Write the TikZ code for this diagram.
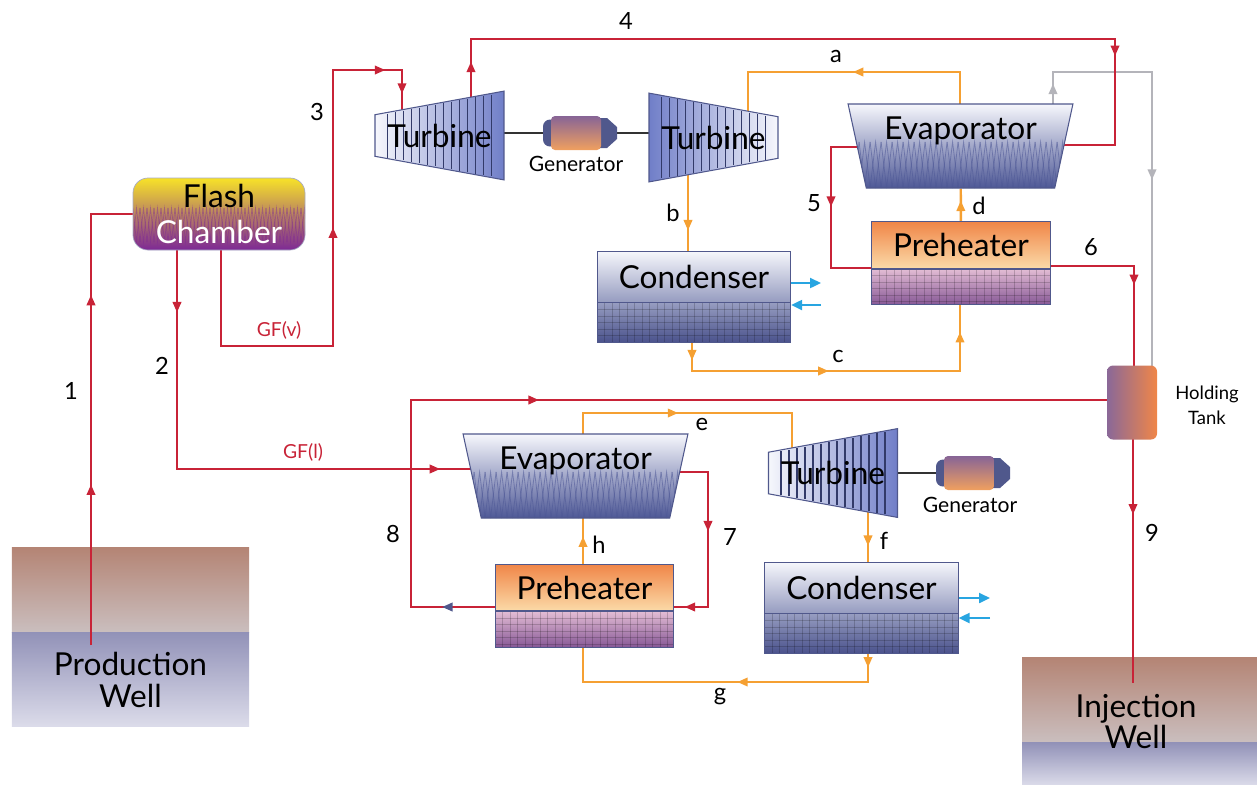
\documentclass[tikz,border=0pt]{standalone}
\usepackage{fontspec}
\setmainfont{Lato}
\usetikzlibrary{arrows.meta,positioning,calc,backgrounds,shapes.geometric}
\definecolor{hotred}   {RGB}{200,35,55}
\definecolor{coldor}   {RGB}{245,160,50}
\definecolor{vapgray}  {RGB}{180,180,186}
\definecolor{waterblue}{RGB}{40,165,225}
\definecolor{edgeblue} {RGB}{80,88,140}
\definecolor{bladeblue}{RGB}{50,58,105}
\definecolor{turbdark} {RGB}{112,126,200}
\definecolor{turblite} {RGB}{246,247,252}
\definecolor{evapdark} {RGB}{78,88,150}
\definecolor{condmid}  {RGB}{150,156,192}
\definecolor{conddark} {RGB}{74,82,140}
\definecolor{preorange}{RGB}{240,134,72}
\definecolor{prepeach} {RGB}{251,218,168}
\definecolor{gridpink} {RGB}{226,188,212}
\definecolor{gridplum} {RGB}{135,88,150}
\definecolor{flashyel} {RGB}{247,226,40}
\definecolor{flashor}  {RGB}{238,160,80}
\definecolor{flashpur} {RGB}{125,40,150}
\definecolor{genpur}   {RGB}{135,100,150}
\definecolor{genpeach} {RGB}{247,200,140}
\definecolor{genor}    {RGB}{240,160,95}
\definecolor{tankpur}  {RGB}{138,104,152}
\definecolor{rockbrn}  {RGB}{180,132,116}
\definecolor{rocklite} {RGB}{202,190,190}
\definecolor{welllav}  {RGB}{146,146,184}
\definecolor{welllite} {RGB}{220,220,234}

% fillings drawn inside the equipment nodes
\newcommand\turbblades[1]{%
  \ifnum#1>0 \colorlet{turbL}{turblite}\colorlet{turbR}{turbdark}%
  \else \colorlet{turbL}{turbdark}\colorlet{turbR}{turblite}\fi
  \shade[left color=turbL,right color=turbR] (path picture bounding box.south west)
    rectangle (path picture bounding box.north east);
  \foreach \k in {0,...,13}{%
    \pgfmathsetmacro\bx{#1*(8*\k-52)}%
    \pgfmathsetmacro\bh{22+1.46*\k}%
    \draw[blade] ($(path picture bounding box.center)+(\bx,-\bh)$) -- ++(0,2*\bh);}}
\newcommand\evapmesh{%
  \foreach \k in {0,...,20}{%
    \draw[mesh] ($(path picture bounding box.north west)+(11*\k,38)$) -- ++(5.5,46) -- ++(5.5,-46);
    \draw[mesh] ($(path picture bounding box.north west)+(11*\k,84)$) -- ++(5.5,-46) -- ++(5.5,46);}}
\newcommand\flashwaves{%
  \foreach \k in {0,...,24}{%
    \draw[wave] ($(path picture bounding box.north west)+(7*\k,30)$) -- ++(3.5,34) -- ++(3.5,-34);
    \draw[wave] ($(path picture bounding box.north west)+(7*\k,64)$) -- ++(3.5,-34) -- ++(3.5,34);}}
\newcommand\gridcells{%
  \foreach \k in {1,...,26}
    \draw[cell] ($(path picture bounding box.north west)+(7.5*\k,0)$) -- ++(0,50);
  \foreach \k in {1,...,6}
    \draw[cell] ($(path picture bounding box.north west)+(0,6.5*\k)$) -- ++(200,0);}
\newcommand\genparts{%
  \begin{scope}[shift={(path picture bounding box.center)}]
    \fill[edgeblue,rounded corners=1.4mm] (-7.4mm,-2.7mm) rectangle (-4.6mm,2.7mm);
    \fill[edgeblue] (3.6mm,-3mm) -- (5.4mm,-3mm) -- (7.4mm,-1.2mm) -- (7.4mm,1.2mm)
      -- (5.4mm,3mm) -- (3.6mm,3mm) -- cycle;
    \shade[top color=genpur,middle color=genpeach,bottom color=genor,rounded corners=.8mm]
      (-5.8mm,-3.4mm) rectangle (4.2mm,3.4mm);
  \end{scope}}

\tikzset{
  comp/.style={font=\fontsize{18}{20.5}\selectfont,inner sep=0pt},
  turbine/.style={comp,trapezium,trapezium stretches=true,trapezium angle=82.7,
    minimum width=17.8mm,minimum height=25.8mm,draw=edgeblue,line width=.6pt,
    path picture={\turbblades{#1}}},
  evaporator/.style={comp,trapezium,trapezium stretches=true,trapezium angle=76,
    shape border rotate=180,minimum width=45mm,minimum height=16.8mm,
    top color=turblite,bottom color=evapdark,draw=edgeblue,line width=.6pt,
    text height=4.6mm,text depth=7.2mm,path picture={\evapmesh}},
  condtop/.style={comp,minimum width=38.7mm,minimum height=10.2mm,
    top color=turblite,bottom color=condmid,draw=edgeblue,line width=.5pt},
  condgrid/.style={inner sep=0pt,minimum width=38.7mm,minimum height=7.9mm,
    top color=condmid,bottom color=conddark,draw=edgeblue,line width=.5pt,
    path picture={\gridcells}},
  pretop/.style={comp,minimum width=35.7mm,minimum height=9.3mm,
    top color=preorange,bottom color=prepeach,draw=edgeblue,line width=.5pt},
  pregrid/.style={inner sep=0pt,minimum width=35.7mm,minimum height=7.1mm,
    top color=gridpink,bottom color=gridplum,draw=edgeblue,line width=.5pt,
    path picture={\gridcells}},
  flash/.style={comp,rounded corners=3mm,minimum width=34.4mm,minimum height=14.4mm,
    top color=flashyel,middle color=flashor,bottom color=flashpur,
    draw=edgeblue!50,line width=.4pt,align=center,path picture={\flashwaves}},
  gen/.style={inner sep=0pt,minimum width=14.8mm,minimum height=6.8mm,
    path picture={\genparts}},
  tank/.style={rounded corners=1.2mm,minimum width=10mm,minimum height=14.8mm,
    left color=tankpur,middle color=genpeach,right color=preorange},
  rock/.style={inner sep=0pt,minimum height=17mm,top color=rockbrn,bottom color=rocklite},
  welltxt/.style={comp,align=center,font=\fontsize{18}{18}\selectfont},
  well/.style={welltxt,top color=welllav,bottom color=welllite},
  blade/.style={draw=bladeblue,line width=.9pt},
  mesh/.style={sharp corners,draw=evapdark,opacity=.55,line width=.45pt},
  wave/.style={sharp corners,draw=flashpur,opacity=.45,line width=.4pt},
  cell/.style={draw=black,opacity=.18,line width=.4pt},
  lbl/.style={font=\fontsize{13.5}{15}\selectfont,inner sep=0pt},
  gflbl/.style={font=\fontsize{11}{13}\selectfont,text=hotred,inner sep=0pt},
  genlbl/.style={font=\fontsize{12}{14}\selectfont,inner sep=0pt},
  tanklbl/.style={font=\fontsize{10.5}{14}\selectfont,align=center,inner sep=0pt},
  pipe/.style={line width=1.4pt},
  hot/.style={pipe,draw=hotred},
  cold/.style={pipe,draw=coldor},
  vapour/.style={pipe,draw=vapgray},
  water/.style={line width=1.3pt,draw=waterblue,-{Triangle[length=2.2mm,width=2mm]}},
  shaft/.style={line width=.7pt,draw=black!80},
  flow/.style={pos=#1,sloped,allow upside down},
  ha/.style={flow=#1,color=hotred},
  oa/.style={flow=#1,color=coldor},
  ga/.style={flow=#1,color=vapgray},
  flowtip/.pic={\fill (-2.9pt,-2.6pt) -- (2.9pt,0pt) -- (-2.9pt,2.6pt) -- cycle;},
}

\begin{document}
\begin{tikzpicture}[x=0.2mm,y=-0.2mm]
  \useasboundingbox (0,0) rectangle (1257,784);

  % flash stage
  \node[flash] (flash) at (219,214) {Flash\\\textcolor{white}{Chamber}};
  \node[turbine=1,shape border rotate=90] (tur1) at (439.5,135.5) {Turbine};
  \node[gen] (gen1) at (580,133) {};
  \node[genlbl] (gen1t) at (576,164) {Generator};
  % upper binary loop
  \node[turbine=-1,shape border rotate=270] (tur2) at (713.5,137.5) {Turbine};
  \node[evaporator] (evap1) at (960.5,146) {Evaporator};
  \node[pretop] (pre1) at (961,245) {Preheater};
  \node[pregrid,below=0pt of pre1] (pre1g) {};
  \node[condtop] (cond1) at (694,276.5) {Condenser};
  \node[condgrid,below=0pt of cond1] (cond1g) {};
  % holding tank
  \node[tank] (tank) at (1132,402.5) {};
  \node[tanklbl] (tankt) at (1207,405) {Holding\\Tank};
  % lower binary loop
  \node[evaporator] (evap2) at (575.5,476) {Evaporator};
  \node[pretop] (pre2) at (584.5,587.5) {Preheater};
  \node[pregrid,below=0pt of pre2] (pre2g) {};
  \node[turbine=1,shape border rotate=90] (tur3) at (833,473) {Turbine};
  \node[gen] (gen2) at (973,473) {};
  \node[genlbl] (gen2t) at (970,505) {Generator};
  \node[condtop] (cond2) at (861.5,587.5) {Condenser};
  \node[condgrid,below=0pt of cond2] (cond2g) {};

  % stream labels
  \node[lbl] (n1) at (71,391) {1};
  \node[lbl] (n2) at (162,366) {2};
  \node[lbl] (n3) at (317,112) {3};
  \node[lbl] (n4) at (626,21) {4};
  \node[lbl] (n5) at (814,203) {5};
  \node[lbl] (n6) at (1091,247) {6};
  \node[lbl] (n7) at (730,537) {7};
  \node[lbl] (n8) at (393,534) {8};
  \node[lbl] (n9) at (1152,533) {9};
  \node[lbl] (la) at (836,56) {a};
  \node[lbl] (lb) at (673,213) {b};
  \node[lbl] (lc) at (838,356) {c};
  \node[lbl] (ld) at (979,206) {d};
  \node[lbl] (le) at (702,424) {e};
  \node[lbl] (lf) at (884,541) {f};
  \node[lbl] (lg) at (720,697) {g};
  \node[lbl] (lh) at (599,545) {h};
  \node[gflbl] (gfv) at (279,330) {GF(v)};
  \node[gflbl] (gfl) at (303,452) {GF(l)};

  \begin{scope}[on background layer]
    % wells
    \node[rock,minimum width=47.4mm] (pwrock) at (130.5,589.5) {};
    \node[well,minimum width=47.4mm,minimum height=18.8mm,below=0pt of pwrock] (pwell) {Production\\Well};
    \node[rock,minimum width=47mm] (iwrock) at (1139.5,699.5) {};
    \node[well,minimum width=47mm,minimum height=8.6mm,below=0pt of iwrock] (iwell) {};

    % corners of the lines
    \coordinate (pw1) at (91,645);   \coordinate (c1)  at (91,214);
    \coordinate (c2)  at (177,469);
    \coordinate (cv1) at (221,346);  \coordinate (cv2) at (333,346);
    \coordinate (cv3) at (333,70);   \coordinate (cv4) at (402,70);
    \coordinate (c4a) at (471,39);   \coordinate (c4b) at (1115,39);
    \coordinate (c4c) at (1115,145);
    \coordinate (c5a) at (831,147);  \coordinate (c5b) at (831,268);
    \coordinate (c6)  at (1134,266);
    \coordinate (c7a) at (708,472);  \coordinate (c7b) at (708,607);
    \coordinate (c8a) at (411,607);  \coordinate (c8b) at (411,400);
    \coordinate (iw1) at (1133,683);
    \coordinate (ca1) at (960,72);   \coordinate (ca2) at (748,72);
    \coordinate (cb)  at (688,200);
    \coordinate (cc1) at (692,371);  \coordinate (cc2) at (960,371);
    \coordinate (ce1) at (583,413);  \coordinate (ce2) at (792,413);
    \coordinate (cf)  at (868,540);
    \coordinate (cg1) at (868,682);  \coordinate (cg2) at (583,682);
    \coordinate (ch)  at (583,542);
    \coordinate (vg1) at (1053,72);  \coordinate (vg2) at (1152,72);
    \coordinate (w1o) at (821,283);  \coordinate (w1i) at (821,305);
    \coordinate (w2o) at (990,598);  \coordinate (w2i) at (990,618);

    % shafts
    \draw[shaft] (tur1.center |- gen1.center) -- (tur2.center |- gen1.center);
    \draw[shaft] (tur3.center |- gen2.center) -- (gen2.center);

    % vapour back to the tank
    \draw[vapour] (evap1.center -| vg1) -- pic[ga=.77]{flowtip} (vg1) -- (vg2)
      -- pic[ga=.31]{flowtip} (vg2 |- tank.center);

    % working fluid
    \draw[cold] (evap1.center -| ca1) -- (ca1) -- pic[oa=.48]{flowtip} (ca2) -- (ca2 |- tur2.center);
    \draw[cold] (tur2.center -| cb) -- pic[oa=.63]{flowtip} (cb |- cond1.center);
    \draw[cold] (cond1g.center -| cc1) -- pic[oa=.67]{flowtip} (cc1) -- pic[oa=.49]{flowtip} (cc2)
      -- pic[oa=.4]{flowtip} (cc2 |- pre1g.center);
    \draw[cold] (pre1) -- pic[oa=.47]{flowtip} (evap1);
    \draw[cold] (evap2.center -| ce1) -- (ce1) -- pic[oa=.43]{flowtip} (ce2) -- (ce2 |- tur3.center);
    \draw[cold] (tur3.center -| cf) -- pic[oa=.59]{flowtip} (cf |- cond2.center);
    \draw[cold] (cond2g.center -| cg1) -- pic[oa=.59]{flowtip} (cg1) -- pic[oa=.44]{flowtip} (cg2)
      -- (cg2 |- pre2g.center);
    \draw[cold] (pre2.center -| ch) -- pic[oa=.41]{flowtip} (ch |- evap2.center);

    % geothermal fluid
    \draw[hot] (pw1) -- pic[ha=.36]{flowtip} pic[ha=.8]{flowtip} (c1) -- (flash);
    \draw[hot] (flash.center -| c2) -- pic[ha=.365]{flowtip} (c2) -- pic[ha=.647]{flowtip} (c2 -| evap2.center);
    \draw[hot] (flash.center -| cv1) -- (cv1) -- (cv2) -- pic[ha=.41]{flowtip} (cv3)
      -- pic[ha=.68]{flowtip} (cv4) -- pic[ha=.28]{flowtip} (cv4 |- tur1.center);
    \draw[hot] (tur1.center -| c4a) -- pic[ha=.71]{flowtip} (c4a) -- (c4b)
      -- pic[ha=.11]{flowtip} (c4c) -- (c4c -| evap1.center);
    \draw[hot] (evap1.center |- c5a) -- (c5a) -- pic[ha=.45]{flowtip} (c5b) -- (c5b -| pre1.center);
    \draw[hot] (pre1.center |- c6) -- (c6) -- pic[ha=.1]{flowtip} (c6 |- tank.center);
    \draw[hot] (evap2.center |- c7a) -- (c7a) -- pic[ha=.4]{flowtip} (c7b)
      -- pic[ha=.146]{flowtip} (c7b -| pre2.center);
    \draw[hot] (pre2.center |- c8a) -- pic[ha=.79,color=edgeblue]{flowtip} (c8a) -- (c8b)
      -- pic[ha=.17]{flowtip} (c8b -| tank.center);
    \draw[hot] (tank.center -| iw1) -- pic[ha=.38]{flowtip} (iw1);

    % cooling water
    \draw[water] (w1o -| cond1.east) -- (w1o);
    \draw[water] (w1i) -- (w1i -| cond1g.east);
    \draw[water] (w2o -| cond2.east) -- (w2o);
    \draw[water] (w2i) -- (w2i -| cond2g.east);
  \end{scope}

  \node[welltxt] (iwt) at (1136,721.5) {Injection\\Well};
\end{tikzpicture}
\end{document}
